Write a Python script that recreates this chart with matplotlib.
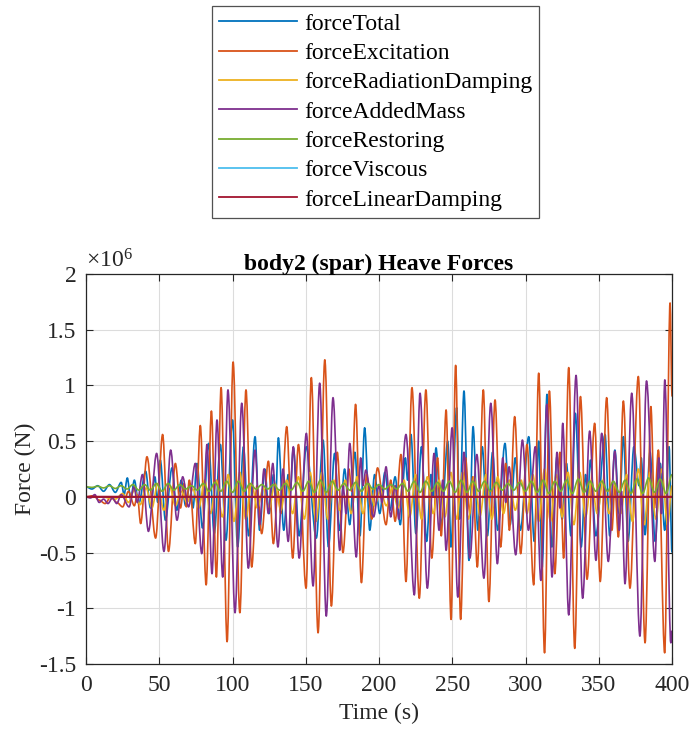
import matplotlib
matplotlib.use("Agg")
import matplotlib.pyplot as plt
from matplotlib.ticker import FuncFormatter
from matplotlib.path import Path
from matplotlib.patches import PathPatch
from matplotlib.lines import Line2D

plt.rcParams['font.family'] = ['Liberation Serif', 'DejaVu Serif']
plt.rcParams['mathtext.fontset'] = 'custom'
plt.rcParams['mathtext.rm'] = 'Liberation Serif'
plt.rcParams['mathtext.it'] = 'Liberation Serif:italic'
plt.rcParams['axes.unicode_minus'] = False

# Heave force components on body2 (spar), values in MN, (time s, force) turning points
force_total = [
    (0, 0.09), (4, 0.07), (8, 0.10), (12, 0.05), (16, 0.11), (20, 0.04), (24, 0.13), (26, 0.02),
    (28.2, 0.17), (30.5, -0.02), (33, 0.15), (36, -0.06), (40.7, 0.23), (44, -0.10), (47, 0.18),
    (49, -0.05), (50.7, 0.33), (54.2, -0.21), (58.7, 0.26), (62, -0.12), (65, 0.15), (68, -0.08),
    (71, 0.12), (73, -0.10), (75.8, 0.30), (79.5, -0.28), (83.7, 0.48), (87.5, -0.33), (91.7, 0.47),
    (95.5, -0.39), (100, 0.69), (103.5, -0.45), (107.5, 0.45), (111, -0.35), (115.4, 0.54),
    (118.5, -0.30), (122, 0.25), (125, -0.15), (128, 0.20), (129.5, 0.0), (131.3, 0.53), (135, -0.30),
    (138, 0.20), (139.5, 0.05), (141.5, 0.44), (145.5, -0.35), (150.4, 0.45), (157.2, -0.37),
    (161.8, 0.51), (165.5, -0.45), (169.7, 0.39), (173, -0.30), (176.5, 0.25), (180, -0.25),
    (183.5, 0.40), (187, -0.35), (190.2, 0.62), (193.7, -0.30), (197, 0.20), (200.5, -0.15),
    (204, 0.22), (207.5, -0.12), (211, 0.18), (214.5, -0.25), (218, 0.35), (219.5, 0.15),
    (221.8, 0.56), (225.2, -0.33), (229, 0.45), (232.5, -0.40), (235.5, 0.20), (237, 0.0),
    (238.9, 0.44), (242.5, -0.25), (246.9, 0.50), (249.1, -0.45), (253, 0.80), (255, -0.20),
    (258, 0.95), (261.4, -0.57), (264.2, 0.63), (267.5, -0.30), (270.5, 0.45), (274, -0.35),
    (277.5, 0.40), (281, -0.30), (286, 0.48), (289.5, -0.25), (293, 0.35), (296.5, -0.30),
    (302.2, 0.54), (306, -0.40), (309, 0.50), (311.3, -0.64), (314.7, 0.92), (318, -0.45),
    (321.5, 0.36), (325, -0.20), (328, 0.30), (331, -0.35), (334, 0.75), (338, -0.45), (341, 0.20),
    (342.5, 0.0), (344.3, 0.33), (348, -0.35), (354.3, 0.56), (357.5, -0.35), (361, 0.42),
    (364, -0.15), (366.8, 0.54), (370, -0.40), (374, 0.45), (377.5, 0.10), (379, 0.35),
    (381.6, -0.34), (385, 0.40), (388.5, -0.40), (392, 0.30), (395, -0.30), (398, 0.45), (400, -0.5),
]

force_excitation = [
    (0, 0), (5, 0.01), (9, -0.03), (13, -0.06), (17, 0.0), (21, -0.05), (25, -0.09), (29, 0.05),
    (33, -0.08), (35, 0.02), (37.3, -0.24), (41.6, 0.36), (47.5, -0.37), (52.3, 0.56), (56.3, -0.49),
    (61, 0.30), (64.5, -0.10), (67, 0.12), (68.5, -0.09), (70.5, 0.15), (74.6, -0.42), (78, 0.64),
    (82, -0.79), (85.6, 0.77), (89, -0.72), (92.2, 0.98), (96.3, -1.30), (100.4, 1.21), (105, -1.04),
    (109.2, 0.96), (113.1, -0.63), (116.7, 0.10), (119.9, -0.33), (124.5, 0.32), (127.9, -0.42),
    (131, 0.05), (133, -0.15), (137, 0.63), (141.1, -0.55), (145, 0.47), (150.2, -0.82),
    (153.8, 1.07), (158.4, -1.22), (163, 1.23), (167.5, -0.98), (171.5, 0.40), (175.4, -0.50),
    (179.5, 0.25), (181.3, 0.05), (184, 0.83), (188, -0.77), (191.5, 0.20), (195, -0.20),
    (199, 0.26), (204.8, -0.25), (208, 0.15), (211, -0.22), (215, 0.38), (218.4, -0.76),
    (222.5, 0.98), (227.5, -0.91), (232, 0.96), (236, -0.55), (240, 0.35), (242.5, -0.35),
    (245.8, 0.78), (249.2, -1.10), (252.3, 1.18), (255.7, -1.10), (259, 0.35), (262, -0.15),
    (264, 0.18), (267.1, -0.63), (271.2, 0.96), (275, -0.94), (279.2, 0.87), (283, -0.45),
    (286.5, 0.30), (289, -0.30), (292.6, 0.72), (296.7, -0.51), (301, 0.47), (305.6, -0.79),
    (309, 1.11), (313, -1.40), (316.3, 0.95), (320, -0.69), (323.5, 0.40), (326, -0.55),
    (329.5, 1.16), (333.6, -1.36), (337.5, 0.90), (342, -0.74), (347.2, 0.66), (351, -0.76),
    (355.4, 0.89), (359, -0.30), (361, 0.10), (363.4, -0.36), (366.8, 0.86), (371.3, -0.82),
    (377, 1.08), (381.6, -1.31), (385.6, 0.81), (388, -0.10), (390.7, 0.42), (395, -1.40),
    (398.7, 1.74), (400, 0.9),
]

force_radiation_damping = [
    (0, 0), (10, 0.0), (20, -0.02), (25, 0.03), (29, -0.05), (33, 0.06), (37, -0.07), (41, 0.08),
    (45, -0.10), (49, 0.12), (53, -0.12), (57, 0.10), (61, -0.08), (65, 0.05), (69, -0.05),
    (73, 0.07), (77, -0.10), (81, 0.15), (85, -0.15), (89, 0.15), (93, -0.18), (97, 0.20),
    (101, -0.22), (105, 0.22), (109, -0.20), (113, 0.12), (117, -0.10), (121, 0.08), (125, -0.10),
    (129, 0.12), (133, -0.12), (137, 0.15), (141, -0.15), (145, 0.18), (149, -0.20), (153, 0.22),
    (157, -0.22), (161, 0.22), (165, -0.20), (169, 0.15), (173, -0.12), (177, 0.15), (181, -0.15),
    (185, 0.18), (189, -0.15), (193, 0.12), (197, -0.08), (201, 0.06), (205, -0.08), (209, 0.08),
    (213, -0.10), (217, 0.15), (221, -0.18), (225, 0.20), (229, -0.20), (233, 0.18), (237, -0.15),
    (241, 0.15), (245, -0.18), (249, 0.22), (253, -0.20), (257, 0.22), (261, -0.20), (265, 0.18),
    (269, -0.17), (273, 0.20), (277, -0.20), (281, 0.18), (285, -0.15), (289, 0.15), (293, -0.12),
    (297, 0.15), (301, -0.15), (305, 0.20), (309, -0.22), (313, 0.25), (317, -0.22), (321, 0.20),
    (325, -0.18), (329, 0.22), (333, -0.25), (337, 0.22), (341, -0.18), (345, 0.15), (349, -0.15),
    (353, 0.15), (357, -0.15), (361, 0.12), (365, -0.15), (369, 0.20), (373, -0.22), (377, 0.25),
    (381, -0.25), (385, 0.22), (389, -0.20), (393, 0.25), (397, -0.25), (400, 0.10),
]

force_added_mass = [
    (0, 0), (3, -0.01), (6, 0.02), (9, -0.05), (12, -0.02), (15, -0.06), (18, -0.01), (21, -0.06),
    (24, 0.02), (29.4, -0.09), (32.8, 0.09), (35, -0.05), (38.5, 0.20), (42.6, -0.31), (48.2, 0.39),
    (53.2, -0.49), (57.8, 0.42), (62.1, -0.21), (66, 0.18), (70, -0.09), (74.6, 0.30), (79, -0.51),
    (82.6, 0.47), (86, -0.69), (89.4, 0.69), (93.3, -0.72), (96.9, 0.96), (101.7, -1.04),
    (106.3, 0.84), (110.8, -0.64), (115.4, 0.42), (118.5, -0.25), (121.5, 0.25), (124.5, -0.15),
    (127.5, 0.30), (131, -0.45), (134.5, 0.25), (138, -0.40), (141.5, 0.45), (145.5, -0.55),
    (150.4, 0.57), (155, -0.80), (159.5, 1.02), (164, -1.07), (168.6, 0.89), (173.2, -0.48),
    (175.5, 0.10), (177.5, -0.15), (180, 0.48), (184.5, -0.54), (187.5, 0.35), (189, 0.10),
    (191, 0.24), (196.3, -0.18), (200, 0.10), (202, -0.05), (204.8, 0.27), (208, -0.18), (211, 0.10),
    (213.5, -0.20), (218.4, 0.56), (224.1, -0.88), (228, 0.93), (233, -0.82), (237.6, 0.39),
    (241, -0.30), (243.5, 0.15), (245.8, -0.48), (249.9, 0.62), (253.8, -0.90), (258, 0.40),
    (262, -0.55), (266.8, 0.38), (271.6, -0.73), (276.3, 0.84), (280.8, -0.60), (284.5, 0.35),
    (286.5, -0.05), (288.8, 0.27), (293.3, -0.52), (297.9, 0.51), (302, -0.30), (306.7, 0.45),
    (310.5, -0.75), (314.6, 0.83), (318.1, -0.72), (321.5, 0.40), (323.5, -0.10), (325.4, 0.66),
    (329.5, -1.06), (334.5, 1.09), (339, -0.91), (343.8, 0.59), (348.1, -0.57), (352, 0.57),
    (356.5, -0.58), (361, 0.41), (364, -0.30), (365.5, 0.05), (367.9, -0.78), (372.5, 0.93),
    (378.1, -1.25), (382.6, 1.04), (388.3, -0.58), (391, 0.35), (392.8, -0.15), (395.1, 1.05),
    (399.2, -1.31), (400, -1.2),
]

force_restoring = [
    (0, 0.09), (4, 0.085), (8, 0.095), (12, 0.08), (16, 0.10), (20, 0.075), (24, 0.10), (28, 0.07),
    (32, 0.11), (36, 0.06), (40, 0.11), (44, 0.06), (48, 0.12), (52, 0.05), (56, 0.12), (60, 0.06),
    (64, 0.11), (68, 0.07), (72, 0.10), (76, 0.06), (80, 0.12), (84, 0.05), (88, 0.13), (92, 0.05),
    (96, 0.14), (100, 0.04), (104, 0.14), (108, 0.05), (112, 0.12), (116, 0.07), (120, 0.11),
    (124, 0.07), (128, 0.11), (132, 0.06), (136, 0.12), (140, 0.06), (144, 0.13), (148, 0.05),
    (152, 0.14), (156, 0.04), (160, 0.15), (164, 0.04), (168, 0.14), (172, 0.06), (176, 0.12),
    (180, 0.06), (184, 0.13), (188, 0.05), (192, 0.12), (196, 0.07), (200, 0.11), (204, 0.07),
    (208, 0.11), (212, 0.07), (216, 0.12), (220, 0.05), (224, 0.14), (228, 0.04), (232, 0.14),
    (236, 0.05), (240, 0.13), (244, 0.05), (248, 0.14), (252, 0.04), (256, 0.15), (260, 0.04),
    (264, 0.14), (268, 0.05), (272, 0.14), (276, 0.05), (280, 0.13), (284, 0.06), (288, 0.12),
    (292, 0.06), (296, 0.13), (300, 0.05), (304, 0.14), (308, 0.04), (312, 0.15), (316, 0.03),
    (320, 0.14), (324, 0.05), (328, 0.15), (332, 0.03), (336, 0.16), (340, 0.04), (344, 0.14),
    (348, 0.05), (352, 0.14), (356, 0.05), (360, 0.14), (364, 0.04), (368, 0.15), (372, 0.03),
    (376, 0.16), (380, 0.03), (384, 0.17), (388, 0.04), (392, 0.16), (396, 0.03), (400, 0.20),
]

force_viscous = [(0, 0.0), (100, 0.0), (200, 0.0), (300, 0.0), (400, 0.0)]
force_linear_damping = [(0, 0.0), (400, 0.0)]

series_names = ['forceTotal', 'forceExcitation', 'forceRadiationDamping', 'forceAddedMass',
                'forceRestoring', 'forceViscous', 'forceLinearDamping']
series_data = [force_total, force_excitation, force_radiation_damping, force_added_mass,
               force_restoring, force_viscous, force_linear_damping]
series_colors = ['#0072BD', '#D95319', '#EDB120', '#7E2F8E', '#77AC30', '#4DBEEE', '#A2142F']
series_widths = [1.2, 1.2, 1.2, 1.2, 1.2, 1.2, 1.6]

x_ticks = [0, 50, 100, 150, 200, 250, 300, 350, 400]
y_ticks = [-1.5, -1, -0.5, 0, 0.5, 1, 1.5, 2]
scale = 1e6


def wave_path(points):
    """Smooth curve through turning points: cubic segments with flat tangents at each point."""
    t0, v0 = points[0]
    verts = [(t0, v0 * scale)]
    codes = [Path.MOVETO]
    for t1, v1 in points[1:]:
        dt = t1 - t0
        verts += [(t0 + dt / 3, v0 * scale), (t1 - dt / 3, v1 * scale), (t1, v1 * scale)]
        codes += [Path.CURVE4] * 3
        t0, v0 = t1, v1
    return Path(verts, codes)


fig = plt.figure(figsize=(6.92, 7.32), dpi=100)
ax = fig.add_axes([0.1243, 0.0929, 0.8468, 0.5328])

axis_color = '#262626'
handles = []
for name, data, col, lw in zip(series_names, series_data, series_colors, series_widths):
    ax.add_patch(PathPatch(wave_path(data), fill=False, edgecolor=col, lw=lw,
                           joinstyle='round', capstyle='butt'))
    handles.append(Line2D([], [], color=col, lw=1.3, label=name))

ax.set_xlim(0, 400)
ax.set_ylim(-1.5 * scale, 2 * scale)
ax.set_xticks(x_ticks)
ax.set_yticks([y * scale for y in y_ticks])
ax.yaxis.set_major_formatter(FuncFormatter(lambda v, p: f'{v / scale:g}'))
ax.grid(True, color='#DCDCDC', lw=0.8)
ax.set_axisbelow(True)
ax.tick_params(direction='in', top=True, right=True, length=5, width=0.8,
               labelsize=17, colors=axis_color, pad=7)
ax.tick_params(axis='x', pad=8)
for sp in ax.spines.values():
    sp.set_color(axis_color)
    sp.set_linewidth(0.9)

ax.set_title('body2 (spar) Heave Forces', fontsize=17, fontweight='bold', pad=3)
ax.set_xlabel('Time (s)', fontsize=17, color=axis_color, labelpad=5)
ax.set_ylabel('Force (N)', fontsize=17, color=axis_color, labelpad=2)
ax.text(0.0, 1.003, r'$\times10^{6}$', transform=ax.transAxes, fontsize=17,
        ha='left', va='bottom', color=axis_color)

leg = fig.legend(handles=handles, loc='upper left', bbox_to_anchor=(212 / 692, 1 - 6 / 732),
                 fontsize=17, handlelength=3.3, labelspacing=0.33, borderpad=0.3,
                 handletextpad=0.3, fancybox=False, frameon=True, borderaxespad=0)
leg.get_frame().set_edgecolor(axis_color)
leg.get_frame().set_linewidth(0.9)

fig.savefig('out.png', dpi=100)
